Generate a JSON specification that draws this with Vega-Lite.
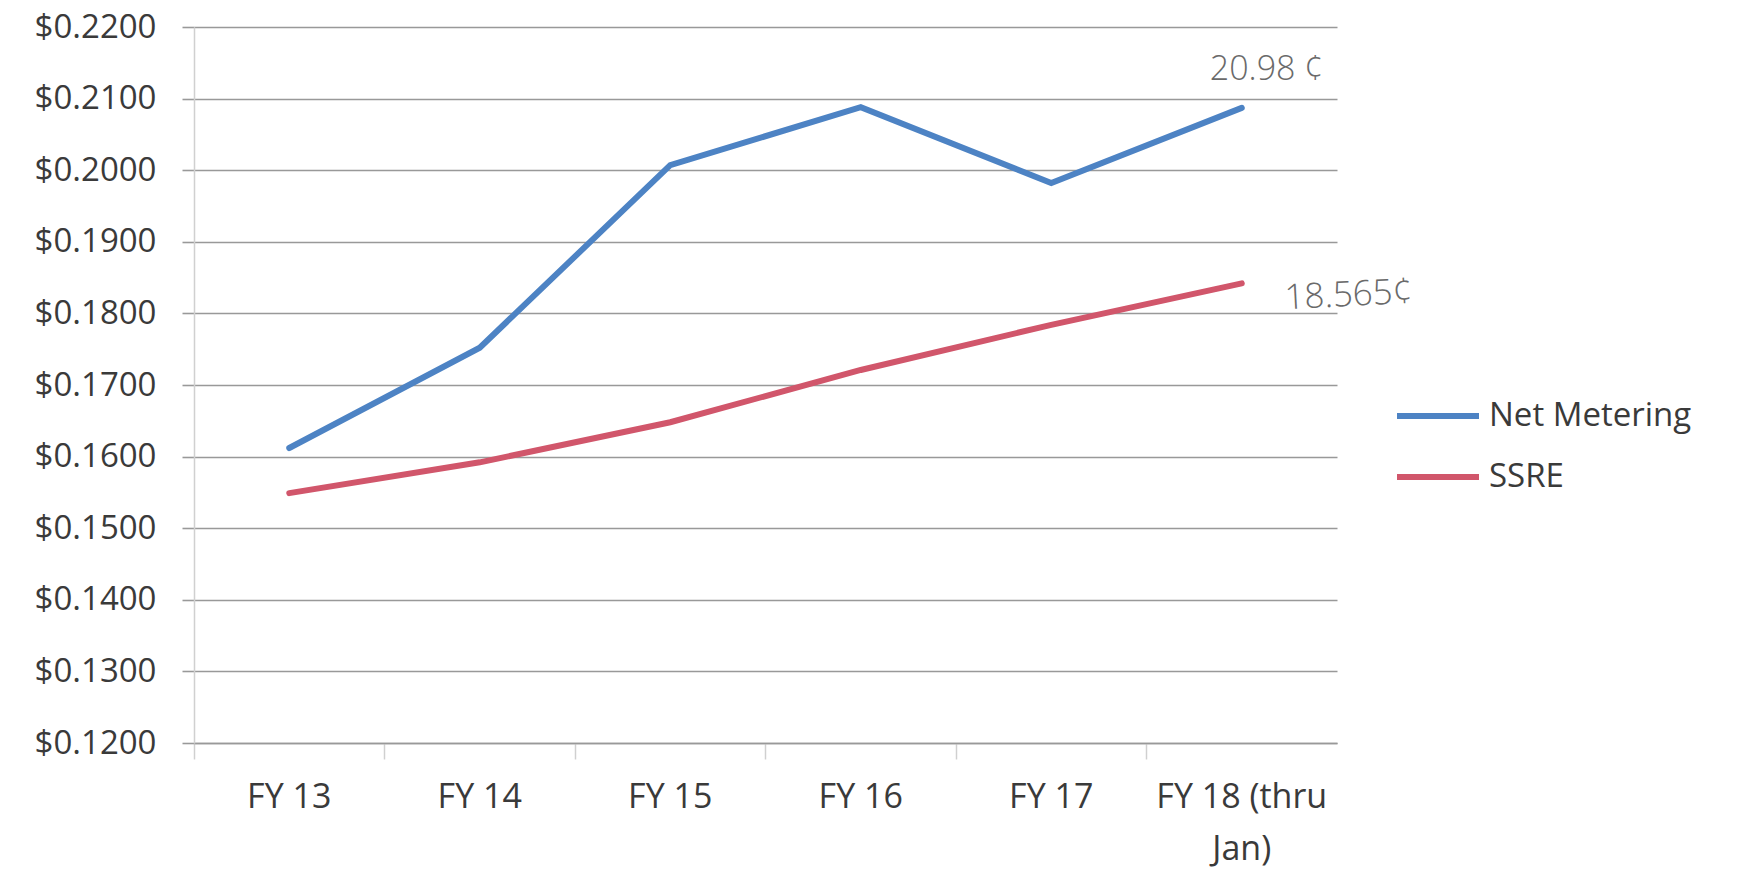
{
  "$schema": "https://vega.github.io/schema/vega-lite/v6.json",
  "width": 1143,
  "height": 716,
  "autosize": {"type": "none"},
  "padding": {"left": 194, "top": 27, "right": 400, "bottom": 129},
  "background": "white",
  "config": {
    "view": {"stroke": null},
    "font": "Open Sans"
  },
  "datasets": {
    "rates": [
      {"year": "FY 13", "series": "Net Metering", "rate": 0.1612},
      {"year": "FY 14", "series": "Net Metering", "rate": 0.1752},
      {"year": "FY 15", "series": "Net Metering", "rate": 0.2007},
      {"year": "FY 16", "series": "Net Metering", "rate": 0.2088},
      {"year": "FY 17", "series": "Net Metering", "rate": 0.1982},
      {"year": "FY 18 (thru Jan)", "series": "Net Metering", "rate": 0.2087},
      {"year": "FY 13", "series": "SSRE", "rate": 0.1549},
      {"year": "FY 14", "series": "SSRE", "rate": 0.1592},
      {"year": "FY 15", "series": "SSRE", "rate": 0.1648},
      {"year": "FY 16", "series": "SSRE", "rate": 0.1721},
      {"year": "FY 17", "series": "SSRE", "rate": 0.1784},
      {"year": "FY 18 (thru Jan)", "series": "SSRE", "rate": 0.1842}
    ],
    "notes": [
      {"year": "FY 18 (thru Jan)", "series": "Net Metering", "rate": 0.2140, "note": "20.98 ¢"},
      {"year": "FY 18 (thru Jan)", "series": "SSRE", "rate": 0.1818, "note": "18.565¢"}
    ]
  },
  "encoding": {
    "x": {
      "field": "year",
      "type": "nominal",
      "sort": null,
      "scale": {"type": "band", "paddingInner": 0, "paddingOuter": 0},
      "axis": {
        "title": null,
        "labelAngle": 0,
        "labelFontSize": 34,
        "labelColor": "#3a3a3a",
        "labelPadding": 21,
        "labelLineHeight": 52,
        "labelExpr": "datum.value == 'FY 18 (thru Jan)' ? ['FY 18 (thru', 'Jan)'] : datum.value",
        "bandPosition": 0,
        "tickColor": "#d0d0d0",
        "tickWidth": 1.5,
        "tickSize": 16,
        "domainColor": "#999999",
        "domainWidth": 1.6,
        "grid": false
      }
    },
    "y": {
      "field": "rate",
      "type": "quantitative",
      "scale": {"domain": [0.12, 0.22], "nice": false, "zero": false},
      "axis": {
        "title": null,
        "values": [0.12, 0.13, 0.14, 0.15, 0.16, 0.17, 0.18, 0.19, 0.20, 0.21, 0.22],
        "format": "$.4f",
        "labelFontSize": 33,
        "labelColor": "#3a3a3a",
        "labelPadding": 26,
        "tickSize": 12,
        "tickColor": "#999999",
        "tickWidth": 1.6,
        "domainColor": "#d0d0d0",
        "domainWidth": 1.5,
        "grid": true,
        "gridColor": "#999999",
        "gridWidth": 1.6
      }
    }
  },
  "layer": [
    {
      "data": {"name": "rates"},
      "mark": {"type": "line", "strokeWidth": 6, "strokeCap": "round", "strokeJoin": "miter"},
      "encoding": {
        "color": {
          "field": "series",
          "type": "nominal",
          "scale": {"domain": ["Net Metering", "SSRE"], "range": ["#4d83c4", "#d1566b"]},
          "legend": {
            "title": null,
            "orient": "none",
            "legendX": 1200,
            "legendY": 345,
            "padding": 0,
            "symbolType": "stroke",
            "symbolSize": 6724,
            "symbolStrokeWidth": 6,
            "symbolOffset": 0,
            "labelOffset": 7,
            "labelFontSize": 33,
            "labelColor": "#3a3a3a",
            "rowPadding": -2,
            "labelLimit": 400
          }
        }
      }
    },
    {
      "data": {"name": "notes"},
      "transform": [{"filter": "datum.series == 'Net Metering'"}],
      "mark": {"type": "text", "fontSize": 34, "fontWeight": 300, "color": "#6a6a6a", "align": "center", "baseline": "middle", "dx": 25},
      "encoding": {
        "text": {"field": "note"}
      }
    },
    {
      "data": {"name": "notes"},
      "transform": [{"filter": "datum.series == 'SSRE'"}],
      "mark": {"type": "text", "fontSize": 35, "fontWeight": 300, "color": "#6a6a6a", "align": "center", "baseline": "middle", "dx": 107, "angle": -3},
      "encoding": {
        "text": {"field": "note"}
      }
    }
  ]
}
